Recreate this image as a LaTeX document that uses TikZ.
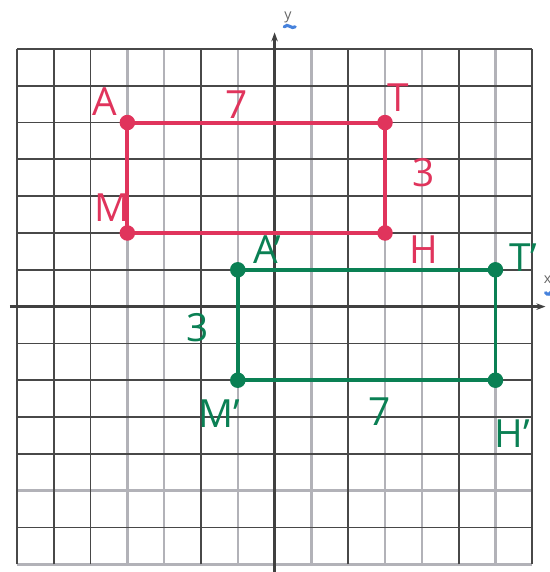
\documentclass[tikz,border=0pt]{standalone}
\usepackage{fontspec}
\setmainfont{Open Sans}
\usetikzlibrary{arrows.meta}
\definecolor{penred}{RGB}{224,52,92}
\definecolor{pengreen}{RGB}{10,128,84}
\definecolor{griddark}{RGB}{72,72,72}
\definecolor{gridlight}{RGB}{178,178,184}
\definecolor{penblue}{RGB}{70,130,220}
\begin{document}
\begin{tikzpicture}[x=1cm,y=1cm,
  darkline/.style={griddark,line width=1.4pt},
  lightline/.style={gridlight,line width=1.9pt},
  axisline/.style={black!75,line width=2pt,-{Stealth[open,length=7pt,width=5pt]}},
  redshape/.style={penred,line width=3pt,line join=round},
  greenshape/.style={pengreen,line width=3pt,line join=round},
  reddot/.style={circle,fill=penred,inner sep=0pt,minimum size=12pt},
  greendot/.style={circle,fill=pengreen,inner sep=0pt,minimum size=12pt},
  redlabel/.style={text=penred,font=\fontsize{30}{30}\selectfont,inner sep=0pt},
  greenlabel/.style={text=pengreen,font=\fontsize{30}{30}\selectfont,inner sep=0pt},
  axislabel/.style={text=black!60,font=\fontsize{11}{11}\selectfont,inner sep=0pt},
  bluemark/.style={penblue,line width=2.4pt,line cap=round}
]
\useasboundingbox (-7.46,-7.21) rectangle (7.48,8.33);
% grid
\foreach \x in {-4,-3,-1,1,3,4,6} \draw[lightline] (\x,-7) -- (\x,7);
\foreach \y in {-7,-5} \draw[lightline] (-7,\y) -- (7,\y);
\foreach \x in {-7,-6,-5,-2,2,5,7} \draw[darkline] (\x,-7) -- (\x,7);
\foreach \y in {-6,-4,-3,-2,-1,1,2,3,4,5,6,7} \draw[darkline] (-7,\y) -- (7,\y);
% axes
\coordinate (ybot) at (0,-7.21);
\coordinate (ytop) at (0,7.45);
\coordinate (xleft) at (-7.19,0);
\coordinate (xright) at (7.36,0);
\draw[axisline] (ybot) -- (ytop);
\draw[axisline] (xleft) -- (xright);
\node[axislabel] (ylab) at (0.36,7.86) {y};
\draw[bluemark] (0.26,7.6) .. controls (0.36,7.72) and (0.46,7.52) .. (0.56,7.6);
\node[axislabel] (xlab) at (7.42,0.72) {x};
\draw[bluemark] (7.36,0.38) .. controls (7.42,0.3) and (7.48,0.34) .. (7.52,0.4);
% red rectangle
\node[reddot] (A) at (-4,5) {};
\node[reddot] (T) at (3,5) {};
\node[reddot] (H) at (3,2) {};
\node[reddot] (M) at (-4,2) {};
\draw[redshape] (A.center) -- (T.center) -- (H.center) -- (M.center) -- cycle;
\node[redlabel] (lA) at (-4.61,5.56) {A};
\node[redlabel] (lT) at (3.35,5.67) {T};
\node[redlabel] (lM) at (-4.42,2.7) {M};
\node[redlabel] (lH) at (4.06,1.54) {H};
\node[redlabel] (l7r) at (-1.02,5.48) {7};
\node[redlabel] (l3r) at (4.06,3.63) {3};
% green rectangle
\node[greendot] (A2) at (-1,1) {};
\node[greendot] (T2) at (6,1) {};
\node[greendot] (H2) at (6,-2) {};
\node[greendot] (M2) at (-1,-2) {};
\draw[greenshape] (A2.center) -- (T2.center) -- (H2.center) -- (M2.center) -- cycle;
\node[greenlabel] (lA2) at (-0.2,1.54) {A'};
\node[greenlabel] (lT2) at (6.75,1.32) {T'};
\node[greenlabel] (lM2) at (-1.5,-2.9) {M'};
\node[greenlabel] (lH2) at (6.45,-3.45) {H'};
\node[greenlabel] (l7g) at (2.86,-2.85) {7};
\node[greenlabel] (l3g) at (-2.1,-0.58) {3};
\end{tikzpicture}
\end{document}
